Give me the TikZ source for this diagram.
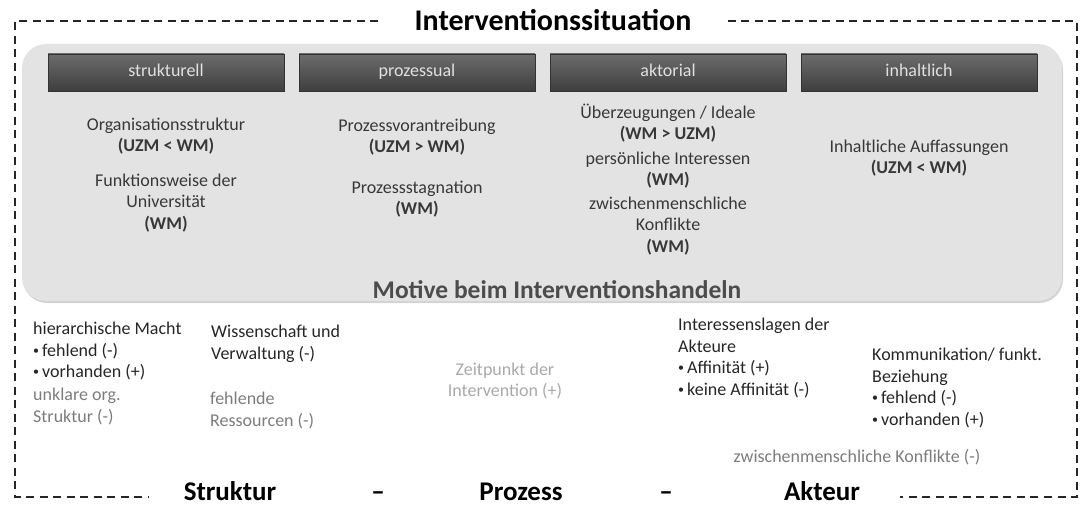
\documentclass[tikz,border=0pt]{standalone}
\usepackage{fontspec}
\setmainfont{Carlito}
\usepackage{tikz}
\usetikzlibrary{positioning,shadows,backgrounds}
\definecolor{panelgray}{HTML}{E3E3E3}
\definecolor{bartop}{HTML}{6C6C6C}
\definecolor{barbottom}{HTML}{3E3E3E}
\definecolor{intext}{HTML}{383838}
\definecolor{darktext}{HTML}{262626}
\definecolor{midtext}{HTML}{7C7C7C}
\definecolor{lighttext}{HTML}{A9A9A9}
\newcommand{\smallbul}{\raisebox{2pt}{\fontsize{12}{12}\selectfont•}\,}

\begin{document}
\begin{tikzpicture}[x=1pt,y=-1pt,
  font=\fontsize{18}{21.5}\selectfont,
  frame/.style={line width=1.6pt,dash pattern=on 8pt off 5.5pt,black!85},
  panel/.style={fill=panelgray,rounded corners=24pt,drop shadow={shadow xshift=1pt,shadow yshift=-2pt,opacity=.35}},
  bar/.style={draw=black!80,top color=bartop,bottom color=barbottom,minimum width=236pt,minimum height=37pt,text=white!88!black,inner sep=0pt,text height=13pt,text depth=4pt},
  item/.style={align=center,text=intext,inner sep=0pt},
  lefttext/.style={align=left,anchor=north west,inner sep=0pt,text=darktext},
  headline/.style={font=\fontsize{27}{30}\selectfont\bfseries,anchor=base,inner xsep=0pt}]
\useasboundingbox (0,0) rectangle (1083,505);
\path[panel] (22,44) rectangle (1062,301);

\node[bar] (strukturell) at (166,72.5) {strukturell};
\node[bar] (prozessual) at (417,72.5) {prozessual};
\node[bar] (aktorial) at (668,72.5) {aktorial};
\node[bar] (inhaltlich) at (919,72.5) {inhaltlich};

\node[item] (orgstruktur) at (166,136) {Organisationsstruktur\\\textbf{(UZM < WM)}};
\node[item] (funktionsweise) at (166,203) {Funktionsweise der\\Universität\\\textbf{(WM)}};
\node[item] (vorantreibung) at (417,137) {Prozessvorantreibung\\\textbf{(UZM > WM)}};
\node[item] (stagnation) at (417,199) {Prozessstagnation\\\textbf{(WM)}};
\node[item] (ideale) at (668,123) {Überzeugungen / Ideale\\\textbf{(WM > UZM)}};
\node[item] (interessen) at (668,170) {persönliche Interessen\\\textbf{(WM)}};
\node[item] (konflikte) at (668,226) {zwischenmenschliche\\Konflikte\\\textbf{(WM)}};
\node[item] (auffassungen) at (919,158) {Inhaltliche Auffassungen\\\textbf{(UZM < WM)}};
\node[item,text=black!70,font=\fontsize{25.5}{30}\selectfont\bfseries] (motive) at (557,290) {Motive beim Interventionshandeln};

\node[lefttext] (macht) at (33,322) {hierarchische Macht\\\smallbul fehlend (-)\\\smallbul vorhanden (+)};
\node[lefttext,text=midtext] (unklar) at (33,388) {unklare org.\\Struktur (-)};
\node[lefttext] (wissenschaft) at (211,325) {Wissenschaft und\\Verwaltung (-)};
\node[lefttext,text=midtext] (ressourcen) at (210,392) {fehlende\\Ressourcen (-)};
\node[item,text=lighttext] (zeitpunkt) at (505,381) {Zeitpunkt der\\Intervention (+)};
\node[lefttext] (interessenslagen) at (678,318) {Interessenslagen der\\Akteure\\\smallbul Affinität (+)\\\smallbul keine Affinität (-)};
\node[lefttext] (kommunikation) at (872,348) {Kommunikation/ funkt.\\Beziehung\\\smallbul fehlend (-)\\\smallbul vorhanden (+)};
\node[item,text=midtext] (zwkonflikte) at (857,457) {zwischenmenschliche Konflikte (-)};

\node[headline,font=\fontsize{30}{34}\selectfont\bfseries] (titel) at (553,31) {Interventionssituation};
\node[headline] (struktur) at (230,500) {Struktur};
\node[headline] (strich1) at (378,500) {–};
\node[headline] (prozess) at (521,500) {Prozess};
\node[headline] (strich2) at (666,500) {–};
\node[headline] (akteur) at (822,500) {Akteur};

\draw[frame] ([xshift=-36pt]titel.west |- 0,21) -| (15,497) -- ([xshift=-35pt]struktur.west |- 0,497);
\draw[frame] ([xshift=36pt]titel.east |- 0,21) -| (1077,497) -- ([xshift=40pt]akteur.east |- 0,497);
\end{tikzpicture}
\end{document}
